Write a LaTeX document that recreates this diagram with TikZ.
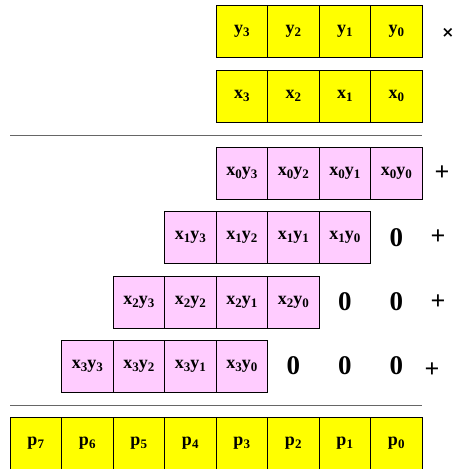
\documentclass[tikz,border=0pt]{standalone}
\usepackage{fontspec}
\setmainfont{Liberation Serif}
\newfontfamily\signfont{DejaVu Sans}
\usetikzlibrary{positioning}
\definecolor{celly}{RGB}{255,255,0}
\definecolor{cellp}{RGB}{255,204,255}
\newcommand{\sbs}[1]{\raisebox{-0.35ex}{\fontsize{13}{13}\selectfont #1}}
\tikzset{
  ybox/.style={draw=black, line width=0.8pt, rectangle, fill=celly, minimum width=51.5pt, minimum height=52pt, outer sep=0pt, inner sep=0pt, font=\fontsize{18}{20}\selectfont\bfseries},
  pbox/.style={ybox, fill=cellp},
  zero/.style={minimum width=51.5pt, minimum height=52pt, outer sep=0pt, inner sep=0pt, font=\fontsize{27}{28}\selectfont\bfseries},
  sign/.style={inner sep=0pt, font=\fontsize{26}{28}\selectfont\bfseries},
  rule/.style={draw=black!60, line width=1pt}
}

\begin{document}
\begin{tikzpicture}[x=1pt, y=-1pt]
  \useasboundingbox (0,0) rectangle (456,469);
  % operands
  \node[ybox] (y3) at (241.75,31) {y\sbs{3}};
  \node[ybox, right=0pt of y3] (y2) {y\sbs{2}};
  \node[ybox, right=0pt of y2] (y1) {y\sbs{1}};
  \node[ybox, right=0pt of y1] (y0) {y\sbs{0}};
  \node[sign, font=\fontsize{15}{18}\signfont\bfseries] (times) at (448,33) {×};
  \node[ybox] (x3) at (241.75,96) {x\sbs{3}};
  \node[ybox, right=0pt of x3] (x2) {x\sbs{2}};
  \node[ybox, right=0pt of x2] (x1) {x\sbs{1}};
  \node[ybox, right=0pt of x1] (x0) {x\sbs{0}};
  \coordinate (ruleAl) at (10,135);
  \coordinate (ruleAr) at (422,135);
  \draw[rule] (ruleAl) -- (ruleAr);
  % partial products
  \node[pbox] (x0y3) at (241.75,173.5) {x\sbs{0}y\sbs{3}};
  \node[pbox, right=0pt of x0y3] (x0y2) {x\sbs{0}y\sbs{2}};
  \node[pbox, right=0pt of x0y2] (x0y1) {x\sbs{0}y\sbs{1}};
  \node[pbox, right=0pt of x0y1] (x0y0) {x\sbs{0}y\sbs{0}};
  \node[sign] (plusA) at (442,173.5) {+};
  \node[pbox] (x1y3) at (190.25,237.5) {x\sbs{1}y\sbs{3}};
  \node[pbox, right=0pt of x1y3] (x1y2) {x\sbs{1}y\sbs{2}};
  \node[pbox, right=0pt of x1y2] (x1y1) {x\sbs{1}y\sbs{1}};
  \node[pbox, right=0pt of x1y1] (x1y0) {x\sbs{1}y\sbs{0}};
  \node[zero, right=0pt of x1y0] (zeroBa) {0};
  \node[sign] (plusB) at (438,237.5) {+};
  \node[pbox] (x2y3) at (138.75,302) {x\sbs{2}y\sbs{3}};
  \node[pbox, right=0pt of x2y3] (x2y2) {x\sbs{2}y\sbs{2}};
  \node[pbox, right=0pt of x2y2] (x2y1) {x\sbs{2}y\sbs{1}};
  \node[pbox, right=0pt of x2y1] (x2y0) {x\sbs{2}y\sbs{0}};
  \node[zero, right=0pt of x2y0] (zeroCa) {0};
  \node[zero, right=0pt of zeroCa] (zeroCb) {0};
  \node[sign] (plusC) at (438,302) {+};
  \node[pbox] (x3y3) at (87.25,366) {x\sbs{3}y\sbs{3}};
  \node[pbox, right=0pt of x3y3] (x3y2) {x\sbs{3}y\sbs{2}};
  \node[pbox, right=0pt of x3y2] (x3y1) {x\sbs{3}y\sbs{1}};
  \node[pbox, right=0pt of x3y1] (x3y0) {x\sbs{3}y\sbs{0}};
  \node[zero, right=0pt of x3y0] (zeroDa) {0};
  \node[zero, right=0pt of zeroDa] (zeroDb) {0};
  \node[zero, right=0pt of zeroDb] (zeroDc) {0};
  \node[sign] (plusD) at (432,370) {+};
  \coordinate (ruleBl) at (10,405);
  \coordinate (ruleBr) at (422,405);
  \draw[rule] (ruleBl) -- (ruleBr);
  % product
  \node[ybox] (p7) at (35.75,443) {p\sbs{7}};
  \node[ybox, right=0pt of p7] (p6) {p\sbs{6}};
  \node[ybox, right=0pt of p6] (p5) {p\sbs{5}};
  \node[ybox, right=0pt of p5] (p4) {p\sbs{4}};
  \node[ybox, right=0pt of p4] (p3) {p\sbs{3}};
  \node[ybox, right=0pt of p3] (p2) {p\sbs{2}};
  \node[ybox, right=0pt of p2] (p1) {p\sbs{1}};
  \node[ybox, right=0pt of p1] (p0) {p\sbs{0}};
\end{tikzpicture}
\end{document}
